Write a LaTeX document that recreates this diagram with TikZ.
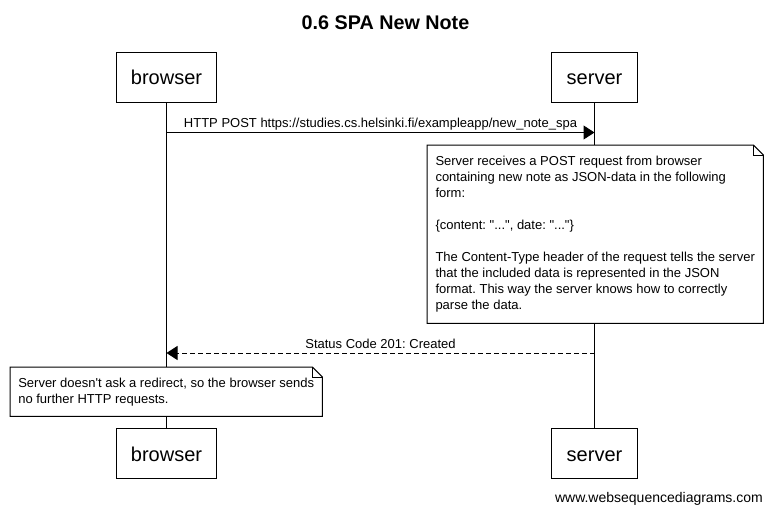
\documentclass[tikz,border=0pt]{standalone}
\usepackage{fontspec}
\setmainfont{Liberation Sans}[Ligatures=TeXOff]
\usetikzlibrary{arrows.meta}
\frenchspacing

\newlength{\du}
\setlength{\du}{1pt}

\tikzset{
  actor/.style={draw, line width=1\du, minimum height=50\du, inner sep=0pt,
    text height=15\du, text depth=0pt, font=\fontsize{20}{24}\selectfont},
  lifeline/.style={line width=1\du},
  msg/.style={line width=1\du, -{Triangle[length=11pt,width=14pt]}},
  reply/.style={msg, dash pattern=on 5\du off 3\du},
  msglabel/.style={anchor=base, yshift=5\du, inner sep=0pt,
    font=\fontsize{13}{15.7}\selectfont},
  note/.style={fill=white, anchor=north west, align=left, inner sep=0pt,
    font=\fontsize{13}{16}\selectfont},
  noteline/.style={line width=1\du, line join=miter}
}

\begin{document}
\begin{tikzpicture}
\useasboundingbox (0,0) rectangle (771\du,-512\du);
% title
\node[font=\fontsize{19.75}{24}\selectfont\bfseries] (title) at (385.5\du,-22.5\du) {0.6 SPA New Note};
% participants
\node[actor, minimum width=100\du] (brtop) at (166.5\du,-77\du) {browser};
\node[actor, minimum width=86\du] (srvtop) at (594.5\du,-77\du) {server};
\node[actor, minimum width=100\du] (brbot) at (166.5\du,-453.5\du) {browser};
\node[actor, minimum width=86\du] (srvbot) at (594.5\du,-453.5\du) {server};
\draw[lifeline] (brtop) -- (brbot);
\draw[lifeline] (srvtop) -- (srvbot);
% notes
\node[note, minimum width=336\du, minimum height=178\du] (srvnote) at (427\du,-145\du) {%
Server receives a POST request from browser\\
containing new note as JSON-data in the following\\
form:\\[15.7\du]
\{content: "...", date: "..."\}\\[15.7\du]
The Content-Type header of the request tells the server\\
that the included data is represented in the JSON\\
format. This way the server knows how to correctly\\
parse the data.};
\node[note, minimum width=312\du, minimum height=49\du] (brnote) at (10\du,-367\du) {%
Server doesn't ask a redirect, so the browser sends\\
no further HTTP requests.};
\foreach \n in {srvnote,brnote}
{
  \draw[noteline] (\n.north west) -- ([xshift=-10\du]\n.north east)
    -- ([yshift=-10\du]\n.north east) -- (\n.south east) -- (\n.south west) -- cycle;
  \draw[noteline] ([xshift=-10\du]\n.north east) -- ++(0,-10\du) -- ++(10\du,0);
}
% messages
\path (brtop.south) ++(0,-30\du) coordinate (postB);
\path (srvtop.south) ++(0,-30\du) coordinate (postS);
\draw[msg] (postB) -- node[msglabel] {HTTP POST https://studies.cs.helsinki.fi/exampleapp/new\_note\_spa} (postS);
\path (srvtop.south) ++(0,-250.5\du) coordinate (okS);
\path (brtop.south) ++(0,-250.5\du) coordinate (okB);
\draw[reply] (okS) -- node[msglabel] {Status Code 201: Created} (okB);
% footer
\node[anchor=base east, inner sep=0pt, font=\fontsize{14}{17}\selectfont] (site) at (763\du,-502\du) {www.websequencediagrams.com};
\end{tikzpicture}
\end{document}
